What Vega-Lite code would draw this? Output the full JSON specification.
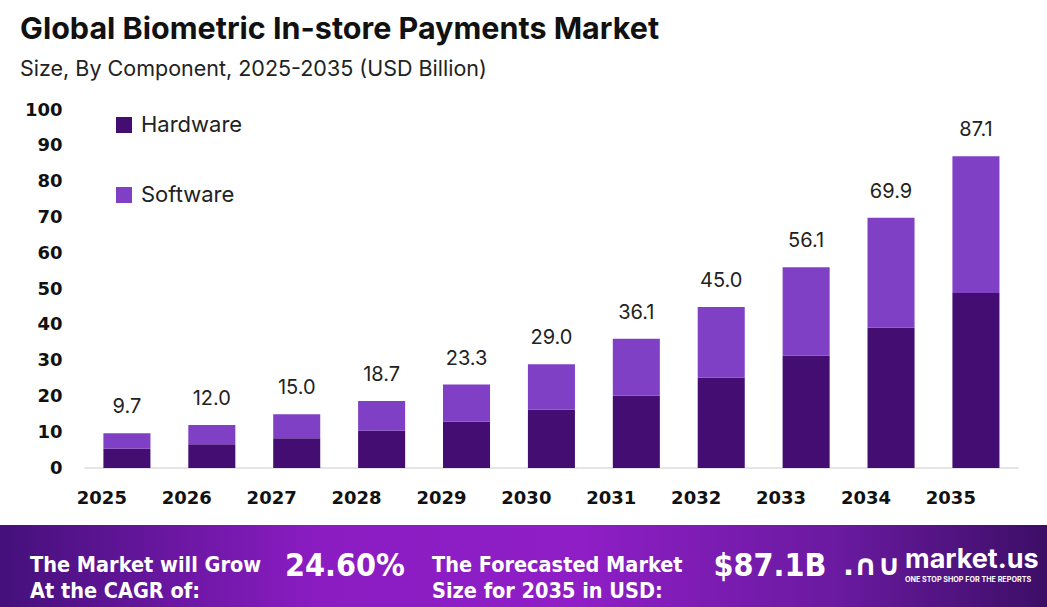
{
  "$schema": "https://vega.github.io/schema/vega-lite/v6.json",
  "padding": {"left": 0, "right": 0, "top": 15, "bottom": 0},
  "autosize": {"type": "pad"},
  "background": "white",
  "spacing": 18,
  "config": {"view": {"stroke": null}},
  "datasets": {
    "parts": [
      {"year": "2025", "component": "Hardware", "value": 5.4},
      {"year": "2025", "component": "Software", "value": 4.3},
      {"year": "2026", "component": "Hardware", "value": 6.6},
      {"year": "2026", "component": "Software", "value": 5.4},
      {"year": "2027", "component": "Hardware", "value": 8.3},
      {"year": "2027", "component": "Software", "value": 6.7},
      {"year": "2028", "component": "Hardware", "value": 10.4},
      {"year": "2028", "component": "Software", "value": 8.3},
      {"year": "2029", "component": "Hardware", "value": 12.9},
      {"year": "2029", "component": "Software", "value": 10.4},
      {"year": "2030", "component": "Hardware", "value": 16.3},
      {"year": "2030", "component": "Software", "value": 12.7},
      {"year": "2031", "component": "Hardware", "value": 20.2},
      {"year": "2031", "component": "Software", "value": 15.9},
      {"year": "2032", "component": "Hardware", "value": 25.2},
      {"year": "2032", "component": "Software", "value": 19.8},
      {"year": "2033", "component": "Hardware", "value": 31.4},
      {"year": "2033", "component": "Software", "value": 24.7},
      {"year": "2034", "component": "Hardware", "value": 39.2},
      {"year": "2034", "component": "Software", "value": 30.7},
      {"year": "2035", "component": "Hardware", "value": 48.9},
      {"year": "2035", "component": "Software", "value": 38.2}
    ],
    "totals": [
      {"year": "2025", "total": 9.7},
      {"year": "2026", "total": 12.0},
      {"year": "2027", "total": 15.0},
      {"year": "2028", "total": 18.7},
      {"year": "2029", "total": 23.3},
      {"year": "2030", "total": 29.0},
      {"year": "2031", "total": 36.1},
      {"year": "2032", "total": 45.0},
      {"year": "2033", "total": 56.1},
      {"year": "2034", "total": 69.9},
      {"year": "2035", "total": 87.1}
    ],
    "footer": [
      {"slot": "a", "part": "a", "t": "The Market will Grow\nAt the CAGR of:"},
      {"slot": "b", "part": "b", "t": "24.60%"},
      {"slot": "c", "part": "c", "t": "The Forecasted Market\nSize for 2035 in USD:"},
      {"slot": "d", "part": "d", "t": "$87.1B"},
      {"slot": "e", "part": "g", "t": ".∩∪"},
      {"slot": "e", "part": "e", "t": "market.us"},
      {"slot": "e", "part": "f", "t": "ONE STOP SHOP FOR THE REPORTS"}
    ]
  },
  "vconcat": [
    {
      "width": 1047,
      "height": 358,
      "title": {
        "text": "Global Biometric In-store Payments Market",
        "subtitle": "Size, By Component, 2025-2035 (USD Billion)",
        "anchor": "start",
        "frame": "group",
        "dx": 20,
        "font": "Inter",
        "fontSize": 30.5,
        "fontWeight": "bold",
        "color": "#111111",
        "subtitleFont": "Inter",
        "subtitleFontSize": 21.5,
        "subtitleColor": "#222222",
        "subtitlePadding": 13,
        "offset": 21
      },
      "layer": [
        {
          "data": {"name": "totals"},
          "mark": {"type": "tick", "orient": "horizontal", "size": 85, "thickness": 1.5, "color": "#cfcfcf"},
          "encoding": {
            "x": {"field": "year", "type": "nominal"},
            "y": {
              "datum": 0,
              "type": "quantitative",
              "axis": {
                "title": null,
                "values": [0, 10, 20, 30, 40, 50, 60, 70, 80, 90, 100],
                "labelOverlap": false,
                "offset": -85,
                "labelPadding": 23,
                "ticks": false,
                "domain": false,
                "grid": false,
                "labelFont": "DejaVu Sans",
                "labelFontSize": 18,
                "labelFontWeight": "bold",
                "labelColor": "#111111"
              }
            }
          }
        },
        {
          "data": {"name": "parts"},
          "mark": {"type": "bar"},
          "encoding": {
            "x": {
              "field": "year",
              "type": "nominal",
              "scale": {"paddingInner": 0.446, "paddingOuter": 0.889, "align": 0.685},
              "axis": {
                "title": null,
                "labelAngle": 0,
                "ticks": false,
                "domain": false,
                "labelPadding": 30,
                "labelFont": "DejaVu Sans",
                "labelFontSize": 18,
                "labelFontWeight": "bold",
                "labelColor": "#111111"
              }
            },
            "y": {
              "field": "value",
              "type": "quantitative",
              "stack": "zero",
              "scale": {"domain": [0, 100]},
              "axis": {
                "title": null,
                "values": [0, 10, 20, 30, 40, 50, 60, 70, 80, 90, 100],
                "labelOverlap": false,
                "offset": -85,
                "labelPadding": 23,
                "ticks": false,
                "domain": false,
                "grid": false,
                "labelFont": "DejaVu Sans",
                "labelFontSize": 18,
                "labelFontWeight": "bold",
                "labelColor": "#111111"
              }
            },
            "color": {
              "field": "component",
              "type": "nominal",
              "scale": {"domain": ["Hardware", "Software"], "range": ["#440d72", "#8040c6"]},
              "legend": {
                "orient": "none",
                "legendX": 113,
                "legendY": 4,
                "title": null,
                "symbolType": "square",
                "symbolSize": 256,
                "symbolStrokeWidth": 0,
                "labelFont": "Inter",
                "labelFontSize": 22,
                "labelColor": "#222222",
                "labelOffset": 6,
                "rowPadding": 48
              }
            },
            "order": {"field": "component", "type": "nominal", "sort": "ascending"}
          }
        },
        {
          "data": {"name": "totals"},
          "mark": {"type": "text", "dy": -26, "fontSize": 20, "font": "Inter", "color": "#222222"},
          "encoding": {
            "x": {"field": "year", "type": "nominal"},
            "y": {
              "field": "total",
              "type": "quantitative",
              "axis": {
                "title": null,
                "values": [0, 10, 20, 30, 40, 50, 60, 70, 80, 90, 100],
                "labelOverlap": false,
                "offset": -85,
                "labelPadding": 23,
                "ticks": false,
                "domain": false,
                "grid": false,
                "labelFont": "DejaVu Sans",
                "labelFontSize": 18,
                "labelFontWeight": "bold",
                "labelColor": "#111111"
              }
            },
            "text": {"field": "total", "type": "quantitative", "format": ".1f"}
          }
        }
      ]
    },
    {
      "width": 1047,
      "height": 82,
      "view": {
        "stroke": null,
        "fill": {
          "gradient": "linear",
          "x1": 0, "y1": 0, "x2": 1, "y2": 0,
          "stops": [
            {"offset": 0, "color": "#44107a"},
            {"offset": 0.3, "color": "#8a1cc2"},
            {"offset": 0.55, "color": "#8f1ec6"},
            {"offset": 0.8, "color": "#6a1aa0"},
            {"offset": 1, "color": "#3c0e66"}
          ]
        }
      },
      "data": {"name": "footer"},
      "encoding": {
        "x": {
          "field": "slot",
          "type": "nominal",
          "scale": {"type": "point", "domain": ["a", "b", "c", "d", "e"], "padding": 0.6175, "align": 0.587},
          "axis": null
        },
        "text": {"field": "t"}
      },
      "layer": [
        {
          "transform": [{"filter": "datum.part === 'a'"}],
          "mark": {"type": "text", "align": "left", "baseline": "middle", "dx": -115, "font": "Liberation Sans Narrow, DejaVu Sans Condensed, Roboto", "fontSize": 21.5, "fontWeight": "bold", "color": "white", "lineBreak": "\n", "lineHeight": 26}
        },
        {
          "transform": [{"filter": "datum.part === 'b'"}],
          "mark": {"type": "text", "align": "center", "baseline": "middle", "font": "Liberation Sans Narrow, DejaVu Sans Condensed, Roboto", "fontSize": 32, "fontWeight": "bold", "color": "white"}
        },
        {
          "transform": [{"filter": "datum.part === 'c'"}],
          "mark": {"type": "text", "align": "left", "baseline": "middle", "dx": -113, "font": "Liberation Sans Narrow, DejaVu Sans Condensed, Roboto", "fontSize": 21.5, "fontWeight": "bold", "color": "white", "lineBreak": "\n", "lineHeight": 26}
        },
        {
          "transform": [{"filter": "datum.part === 'd'"}],
          "mark": {"type": "text", "align": "center", "baseline": "middle", "dx": 25, "font": "Liberation Sans Narrow, DejaVu Sans Condensed, Roboto", "fontSize": 32, "fontWeight": "bold", "color": "white"}
        },
        {
          "transform": [{"filter": "datum.part === 'g'"}],
          "mark": {"type": "text", "align": "center", "baseline": "middle", "dx": -73, "dy": 0, "font": "DejaVu Sans", "fontSize": 29, "fontWeight": "bold", "color": "white", "letterSpacing": -2}
        },
        {
          "transform": [{"filter": "datum.part === 'e'"}],
          "mark": {"type": "text", "align": "left", "baseline": "alphabetic", "dx": -40, "dy": 2, "font": "Inter", "fontSize": 27, "fontWeight": "bold", "color": "white"}
        },
        {
          "transform": [{"filter": "datum.part === 'f'"}],
          "mark": {"type": "text", "align": "left", "baseline": "middle", "dx": -40, "dy": 14, "font": "Inter", "fontSize": 7.2, "fontWeight": "bold", "color": "white", "letterSpacing": 0.9}
        }
      ]
    }
  ]
}
